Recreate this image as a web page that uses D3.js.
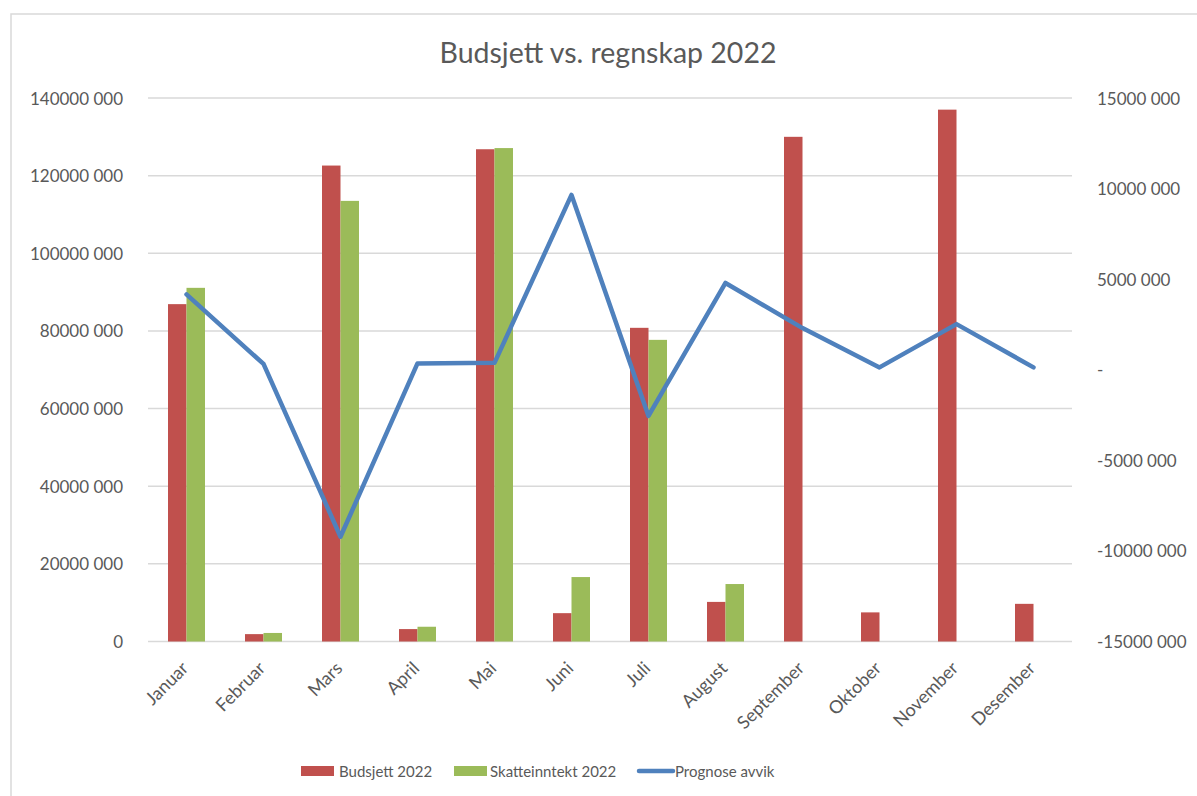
<!DOCTYPE html>
<html>
<head>
<meta charset="utf-8">
<script src="https://cdn.jsdelivr.net/npm/d3@7"></script>
<style>
  html, body { margin: 0; padding: 0; background: #fff; }
  svg text { font-family: Lato, "Open Sans", sans-serif; fill: #595959; }
</style>
</head>
<body>
<svg id="chart" width="1197" height="796"></svg>
<script>
// Chart data
const months = ["Januar", "Februar", "Mars", "April", "Mai", "Juni", "Juli",
  "August", "September", "Oktober", "November", "Desember"];
const budsjett = [86900000, 1900000, 122600000, 3200000, 126800000, 7300000,
  80800000, 10200000, 130000000, 7500000, 137000000, 9700000];
const skatt = [91100000, 2200000, 113500000, 3800000, 127100000, 16600000,
  77700000, 14800000, null, null, null, null];
const avvik = [4160000, 320000, -9220000, 350000, 380000, 9650000,
  -2550000, 4790000, 2300000, 130000, 2520000, 130000];
const leftTicks = [0, 20000000, 40000000, 60000000, 80000000, 100000000, 120000000, 140000000];
const rightTicks = [-15000000, -10000000, -5000000, 0, 5000000, 10000000, 15000000];

const colors = { budsjett: "#C0504D", skatt: "#9BBB59", avvik: "#4F81BD" };

const svg = d3.select("#chart");
const plotLeft = 148, plotRight = 1072, plotTop = 98, plotBottom = 641.5;

// frame
svg.append("rect")
  .attr("x", 11).attr("y", 14)
  .attr("width", 1220).attr("height", 820)
  .attr("fill", "none").attr("stroke", "#D9D9D9").attr("stroke-width", 1.5);

const x = d3.scaleBand().domain(months).range([plotLeft, plotRight]);
const y = d3.scaleLinear().domain([0, 140000000]).range([plotBottom, plotTop]);
const y2 = d3.scaleLinear().domain([-15000000, 15000000]).range([plotBottom, plotTop]);

// number format like "140000 000"
function fmt(v) {
  if (v === 0) return "0";
  const s = String(Math.abs(v));
  const out = s.slice(0, -3) + " " + s.slice(-3);
  return (v < 0 ? "-" : "") + out;
}

// grid lines
svg.append("g").selectAll("line")
  .data(leftTicks)
  .join("line")
  .attr("x1", plotLeft).attr("x2", plotRight)
  .attr("y1", d => y(d)).attr("y2", d => y(d))
  .attr("stroke", "#D9D9D9").attr("stroke-width", 1.5);

// left axis labels
svg.append("g").selectAll("text")
  .data(leftTicks)
  .join("text")
  .attr("x", 123)
  .attr("y", d => y(d))
  .attr("text-anchor", "end")
  .attr("dominant-baseline", "central")
  .style("font-size", "17px")
  .text(d => fmt(d));

// right axis labels
svg.append("g").selectAll("text")
  .data(rightTicks)
  .join("text")
  .attr("x", 1097)
  .attr("y", d => y2(d))
  .attr("text-anchor", "start")
  .attr("dominant-baseline", "central")
  .style("font-size", "17px")
  .text(d => d === 0 ? "-" : fmt(d));

// bars
const barW = 18.5;
svg.append("g").selectAll("rect")
  .data(months.map((m, i) => ({ m, v: budsjett[i] })))
  .join("rect")
  .attr("x", d => x(d.m) + x.bandwidth() / 2 - barW)
  .attr("y", d => y(d.v))
  .attr("width", barW)
  .attr("height", d => y(0) - y(d.v))
  .attr("fill", colors.budsjett);

svg.append("g").selectAll("rect")
  .data(months.map((m, i) => ({ m, v: skatt[i] })).filter(d => d.v != null))
  .join("rect")
  .attr("x", d => x(d.m) + x.bandwidth() / 2)
  .attr("y", d => y(d.v))
  .attr("width", barW)
  .attr("height", d => y(0) - y(d.v))
  .attr("fill", colors.skatt);

// line
const line = d3.line()
  .x((d, i) => x(months[i]) + x.bandwidth() / 2)
  .y(d => y2(d));
svg.append("path")
  .datum(avvik)
  .attr("d", line)
  .attr("fill", "none")
  .attr("stroke", colors.avvik)
  .attr("stroke-width", 4.5)
  .attr("stroke-linejoin", "round")
  .attr("stroke-linecap", "round");

// x labels
svg.append("g").selectAll("text")
  .data(months)
  .join("text")
  .attr("transform", d => `translate(${x(d) + x.bandwidth() / 2 - 2},${plotBottom + 23}) rotate(-45)`)
  .attr("text-anchor", "end")
  .attr("dominant-baseline", "central")
  .style("font-size", "18px")
  .text(d => d);

// title
svg.append("text")
  .attr("x", 608).attr("y", 52)
  .attr("text-anchor", "middle")
  .attr("dominant-baseline", "central")
  .style("font-size", "28.5px")
  .text("Budsjett vs. regnskap 2022");

// legend
const legend = svg.append("g").style("font-size", "15px");
legend.append("rect").attr("x", 301).attr("y", 766).attr("width", 33).attr("height", 10).attr("fill", colors.budsjett);
legend.append("text").attr("x", 339).attr("y", 771).attr("dominant-baseline", "central").text("Budsjett 2022");
legend.append("rect").attr("x", 454).attr("y", 766).attr("width", 33).attr("height", 10).attr("fill", colors.skatt);
legend.append("text").attr("x", 490).attr("y", 771).attr("dominant-baseline", "central").text("Skatteinntekt 2022");
legend.append("line").attr("x1", 639).attr("x2", 673).attr("y1", 771).attr("y2", 771)
  .attr("stroke", colors.avvik).attr("stroke-width", 4.5).attr("stroke-linecap", "round");
legend.append("text").attr("x", 675).attr("y", 771).attr("dominant-baseline", "central").text("Prognose avvik");
</script>
</body>
</html>
